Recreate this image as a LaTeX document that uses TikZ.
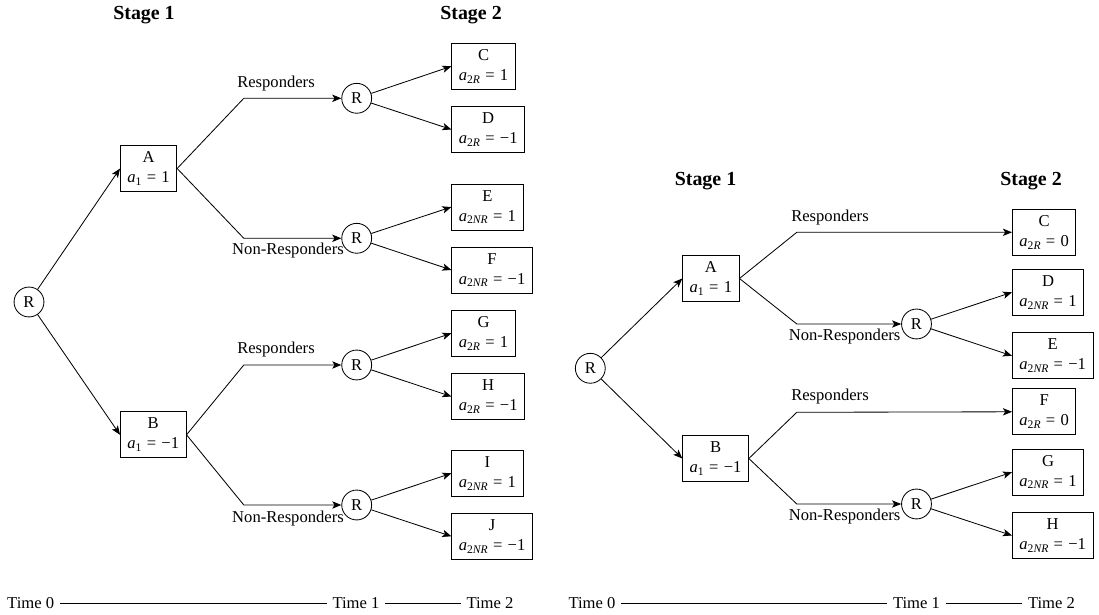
\documentclass[tikz,border=0pt]{standalone}
\usepackage{fontspec}
\setmainfont{Liberation Serif}
\usetikzlibrary{arrows.meta}
\newcommand{\aeq}[2]{\textit{a}\lower0.35ex\hbox{\fontsize{7pt}{7pt}\selectfont #1}\hspace{3.2pt}=\hspace{3.2pt}#2}
\begin{document}
\begin{tikzpicture}[x=0.6024pt,y=-0.6024pt,
  every node/.style={font=\fontsize{10pt}{12pt}\selectfont},
  box/.style={draw,line width=0.5pt,align=center,anchor=west,inner xsep=4.2pt,inner ysep=3pt,minimum height=27.7pt},
  rnode/.style={draw,circle,line width=0.5pt,minimum size=18pt,inner sep=0pt},
  stagelab/.style={font=\fontsize{12pt}{14pt}\selectfont\bfseries},
  conn/.style={line width=0.5pt,-{Stealth[length=5.5pt,width=4.4pt,inset=1.4pt]}},
  plain/.style={line width=0.5pt}]
\path[use as bounding box] (0,0) rectangle (1099,615);

% ---------------- Left diagram ----------------
\node[stagelab] (ls1) at (144,15) {Stage 1};
\node[stagelab] (ls2) at (471,15) {Stage 2};
\node[rnode] (lR0) at (29,302) {R};
\node[box] (lA) at (120,168.5) {A\\\aeq{1}{1}};
\node[box] (lB) at (120,434.8) {B\\\aeq{1}{−1}};
\coordinate (lb1) at (243.8,98.3);
\coordinate (lb2) at (243.8,238.3);
\coordinate (lb3) at (243.8,365);
\coordinate (lb4) at (243.8,505);
\node[rnode] (lR1) at (356.7,98.3) {R};
\node[rnode] (lR2) at (356.7,238.3) {R};
\node[rnode] (lR3) at (356.7,365) {R};
\node[rnode] (lR4) at (356.7,505) {R};
\node (lr1) at (276,84) {Responders};
\node (ln1) at (288,250.7) {Non-Responders};
\node (lr2) at (276,350) {Responders};
\node (ln2) at (288,518.3) {Non-Responders};
\node[box] (lC) at (451.4,66.3) {C\\\aeq{2\textit{R}}{1}};
\node[box] (lD) at (451.4,129.5) {D\\\aeq{2\textit{R}}{−1}};
\node[box] (lE) at (451.4,207) {E\\\aeq{2\textit{NR}}{1}};
\node[box] (lF) at (451.4,270) {F\\\aeq{2\textit{NR}}{−1}};
\node[box] (lG) at (451.4,333.3) {G\\\aeq{2\textit{R}}{1}};
\node[box] (lH) at (451.4,396.5) {H\\\aeq{2\textit{R}}{−1}};
\node[box] (lI) at (451.4,473.3) {I\\\aeq{2\textit{NR}}{1}};
\node[box] (lJ) at (451.4,536.3) {J\\\aeq{2\textit{NR}}{−1}};
\draw[conn] (lR0) -- (lA.west);
\draw[conn] (lR0) -- (lB.west);
\draw[conn] (lA.east) -- (lb1) -- (lR1);
\draw[conn] (lA.east) -- (lb2) -- (lR2);
\draw[conn] (lB.east) -- (lb3) -- (lR3);
\draw[conn] (lB.east) -- (lb4) -- (lR4);
\draw[conn] (lR1) -- (lC.west);
\draw[conn] (lR1) -- (lD.west);
\draw[conn] (lR2) -- (lE.west);
\draw[conn] (lR2) -- (lF.west);
\draw[conn] (lR3) -- (lG.west);
\draw[conn] (lR3) -- (lH.west);
\draw[conn] (lR4) -- (lI.west);
\draw[conn] (lR4) -- (lJ.west);
\node (lt0) at (30.7,603.3) {Time 0};
\node (lt1) at (356,603.3) {Time 1};
\node (lt2) at (490,603.3) {Time 2};
\draw[plain] (lt0.east) -- (lt1.west);
\draw[plain] (lt1.east) -- (lt2.west);

% ---------------- Right diagram ----------------
\node[stagelab] (rs1) at (705.5,180.7) {Stage 1};
\node[stagelab] (rs2) at (1031,180.7) {Stage 2};
\node[rnode] (rR0) at (590.3,368.3) {R};
\node[box] (rA) at (682.3,278.5) {A\\\aeq{1}{1}};
\node[box] (rB) at (682.3,458.5) {B\\\aeq{1}{−1}};
\coordinate (rb1) at (796.8,232.3);
\coordinate (rb2) at (796.8,324);
\coordinate (rb3) at (796.8,412.3);
\coordinate (rb4) at (796.8,504);
\node[rnode] (rR2) at (916.5,324) {R};
\node[rnode] (rR4) at (916.5,504) {R};
\node (rr1) at (830,217.7) {Responders};
\node (rn1) at (844.6,336.7) {Non-Responders};
\node (rr2) at (830,396.7) {Responders};
\node (rn2) at (844.6,516.7) {Non-Responders};
\node[box] (rC) at (1012,232.3) {C\\\aeq{2\textit{R}}{0}};
\node[box] (rD) at (1012,292.3) {D\\\aeq{2\textit{NR}}{1}};
\node[box] (rE) at (1012,355.8) {E\\\aeq{2\textit{NR}}{−1}};
\node[box] (rF) at (1012,411.8) {F\\\aeq{2\textit{R}}{0}};
\node[box] (rG) at (1012,472.2) {G\\\aeq{2\textit{NR}}{1}};
\node[box] (rH) at (1012,535.5) {H\\\aeq{2\textit{NR}}{−1}};
\draw[conn] (rR0) -- (rA.west);
\draw[conn] (rR0) -- (rB.west);
\draw[conn] (rA.east) -- (rb1) -- (rC.west);
\draw[conn] (rA.east) -- (rb2) -- (rR2);
\draw[conn] (rB.east) -- (rb3) -- (rF.west);
\draw[conn] (rB.east) -- (rb4) -- (rR4);
\draw[conn] (rR2) -- (rD.west);
\draw[conn] (rR2) -- (rE.west);
\draw[conn] (rR4) -- (rG.west);
\draw[conn] (rR4) -- (rH.west);
\node (rt0) at (592,603.3) {Time 0};
\node (rt1) at (916.5,603.3) {Time 1};
\node (rt2) at (1051.5,603.3) {Time 2};
\draw[plain] (rt0.east) -- (rt1.west);
\draw[plain] (rt1.east) -- (rt2.west);
\end{tikzpicture}
\end{document}
